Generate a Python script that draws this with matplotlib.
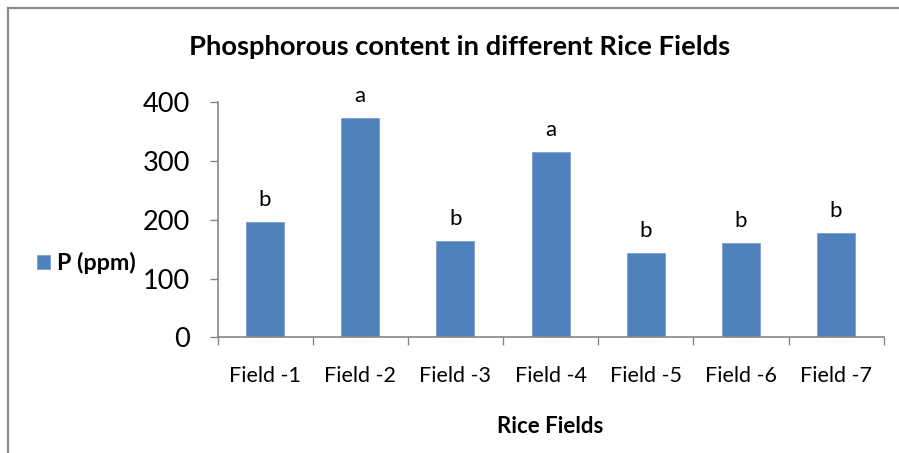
import matplotlib
matplotlib.use("Agg")
import matplotlib.pyplot as plt
from matplotlib.lines import Line2D

categories = ["Field -1", "Field -2", "Field -3", "Field -4", "Field -5", "Field -6", "Field -7"]
values = [196, 373, 164, 315, 143, 160, 177]
letters = ["b", "a", "b", "a", "b", "b", "b"]
series_name = "P (ppm)"
yticks = [0, 100, 200, 300, 400]

plt.rcParams['font.family'] = ['Lato', 'DejaVu Sans']

W, H = 899, 453
fig = plt.figure(figsize=(W / 100, H / 100), dpi=100)
fig.patch.set_facecolor("white")

# outer frame (left and top edges visible)
fig.add_artist(Line2D([8 / W, 8 / W], [0, 1 - 8 / H], transform=fig.transFigure, color="#8c8c8c", lw=1.6))
fig.add_artist(Line2D([8 / W, 1], [1 - 8 / H, 1 - 8 / H], transform=fig.transFigure, color="#8c8c8c", lw=1.6))

ax = fig.add_axes([217.5 / W, (H - 337.3) / H, (883.7 - 217.5) / W, 235 / H])
x = list(range(len(categories)))
bars = ax.bar(x, values, width=0.4, color="#4F81BD", edgecolor="#7aa0d4", linewidth=0.6, label=series_name, zorder=2)

ax.set_xlim(-0.5, len(categories) - 0.5)
ax.set_ylim(0, 400)
ax.set_yticks(yticks)
ax.set_yticklabels([str(v) for v in yticks], fontsize=19.5)

ax.set_xticks([i - 0.5 for i in range(len(categories) + 1)])
ax.set_xticklabels([])
ax.set_xticks(x, minor=True)
ax.set_xticklabels(categories, minor=True, fontsize=15.5)
ax.tick_params(axis="x", which="minor", length=0, pad=21)
ax.tick_params(axis="x", which="major", length=6, width=1.0, color="#868686", direction="out")
ax.tick_params(axis="y", length=6, width=1.0, color="#868686", direction="out", pad=14)

for s in ["top", "right"]:
    ax.spines[s].set_visible(False)
for s in ["left", "bottom"]:
    ax.spines[s].set_color("#868686")
    ax.spines[s].set_linewidth(1.2)

for xi, v, lt in zip(x, values, letters):
    ax.annotate(lt, (xi, v), xytext=(0, 11.5), textcoords="offset points",
                ha="center", va="baseline", fontsize=16)

ax.set_xlabel("Rice Fields", fontsize=16, fontweight="bold", va="baseline")
ax.xaxis.set_label_coords(0.5, (337.3 - 433.3) / 235)

fig.text(459.5 / W, 1 - 55 / H, "Phosphorous content in different Rice Fields",
         ha="center", va="baseline", fontsize=19.7, fontweight="bold")

fig.legend(handles=[bars], labels=[series_name], loc="center left",
           bbox_to_anchor=(37 / W, 1 - 263 / H), frameon=False,
           prop={"weight": "bold", "size": 16.8},
           handlelength=0.55, handleheight=0.55, handletextpad=0.3, borderpad=0, borderaxespad=0)

fig.savefig("out.png", dpi=100)
